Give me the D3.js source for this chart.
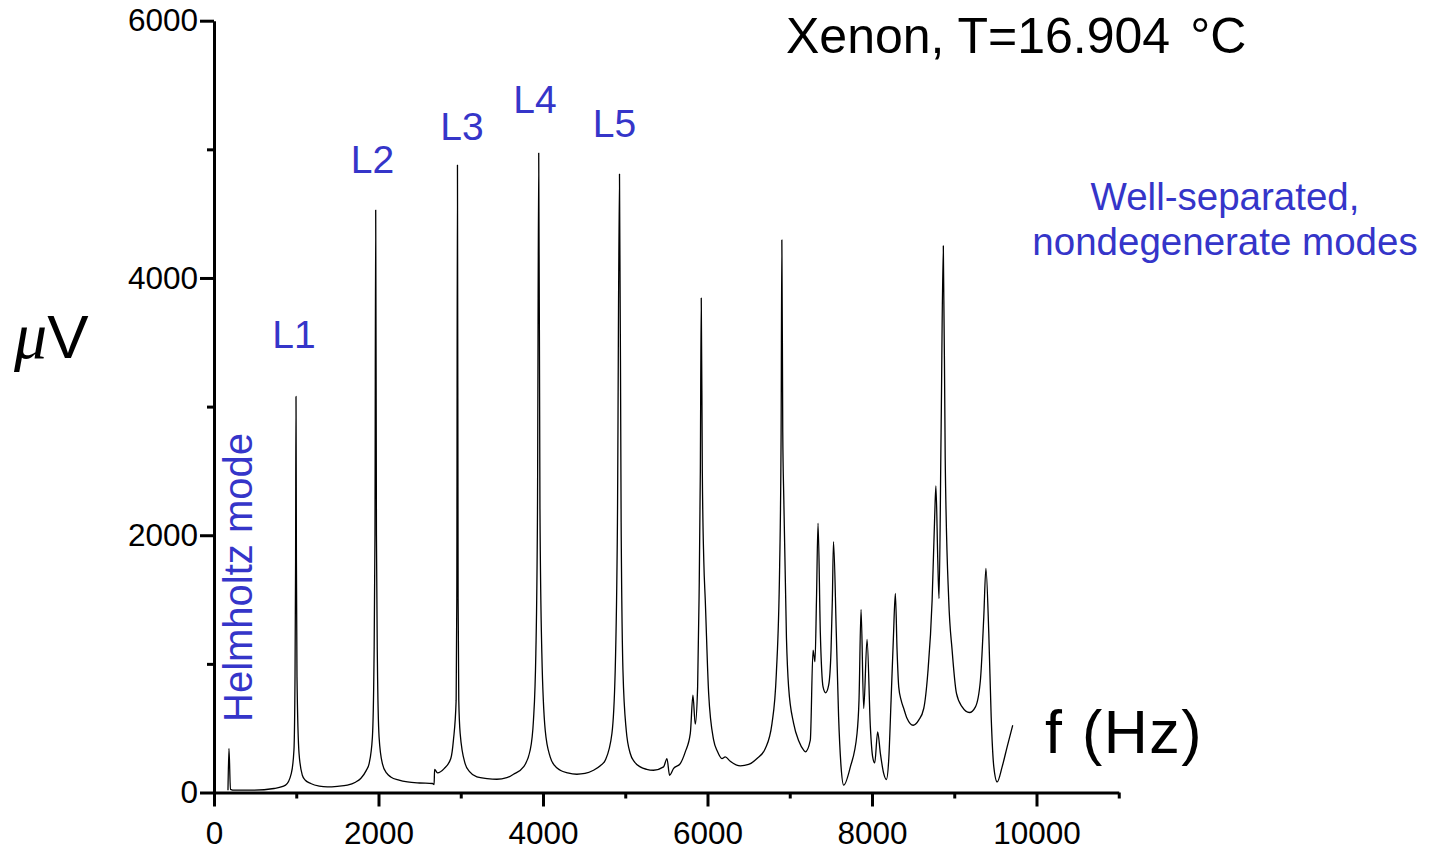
<!DOCTYPE html>
<html>
<head>
<meta charset="utf-8">
<script src="https://cdn.jsdelivr.net/npm/d3@7"></script>
<style>
  body { margin: 0; background: #fff; }
  svg { display: block; font-family: "Liberation Sans", Arial, sans-serif; }
</style>
</head>
<body>
<div id="container"></div>
<script>
/* DATA */
const freqHz = [
  170, 182, 200, 250, 490, 730, 870, 940, 972, 985, 992, 997, 1002, 1009, 1034, 1074, 1110, 1176, 1280, 1378,
  1500, 1622, 1720, 1784, 1850, 1886, 1926, 1945, 1957, 1966, 1975, 1987, 2007, 2047, 2100, 2149, 2250, 2352, 2500, 2656,
  2676, 2682, 2717, 2798, 2879, 2911, 2944, 2952, 2960, 2968, 2976, 2993, 3053, 3110, 3196, 3320, 3439, 3560, 3641, 3763,
  3844, 3884, 3913, 3933, 3948, 3963, 3986, 4027, 4087, 4140, 4209, 4300, 4412, 4510, 4614, 4700, 4757, 4838, 4878, 4905,
  4930, 4950, 4972, 5012, 5061, 5110, 5182, 5260, 5344, 5466, 5507, 5539, 5588, 5669, 5730, 5791, 5823, 5851, 5880, 5897,
  5913, 5924, 5937, 5955, 5973, 6014, 6075, 6120, 6176, 6216, 6277, 6399, 6500, 6602, 6703, 6784, 6837, 6877, 6895, 6904,
  6915, 6928, 6960, 6986, 7047, 7110, 7169, 7190, 7250, 7283, 7307, 7325, 7344, 7372, 7405, 7437, 7473, 7502, 7518, 7532,
  7566, 7594, 7624, 7656, 7737, 7818, 7842, 7867, 7899, 7940, 7980, 8008, 8033, 8069, 8102, 8142, 8175, 8203, 8232, 8260,
  8284, 8305, 8325, 8354, 8386, 8427, 8500, 8568, 8629, 8678, 8731, 8762, 8777, 8800, 8815, 8840, 8867, 8890, 8933, 8974,
  9027, 9096, 9185, 9258, 9318, 9359, 9385, 9420, 9449, 9481, 9522, 9582, 9643, 9711
];
const signal = [
  18, 342, 25, 18, 18, 31, 57, 148, 330, 900, 1800, 3079, 1800, 900, 303, 134, 95, 70, 50, 44,
  48, 57, 80, 109, 170, 225, 432, 1000, 2000, 4528, 2000, 1000, 432, 225, 150, 121, 96, 82, 74, 70,
  62, 180, 153, 186, 264, 407, 718, 1500, 4878, 1500, 718, 459, 225, 160, 121, 108, 103, 115, 142, 199,
  329, 562, 1081, 2200, 4971, 2200, 1081, 484, 277, 210, 173, 152, 142, 148, 173, 210, 251, 459, 951, 2100,
  4808, 2100, 951, 484, 303, 240, 199, 180, 173, 199, 264, 134, 187, 225, 316, 459, 757, 531, 821, 1495,
  2500, 3844, 2500, 1800, 1495, 770, 407, 320, 264, 277, 243, 207, 218, 264, 342, 536, 925, 1754, 2800, 4295,
  2800, 2273, 1200, 821, 537, 400, 329, 316, 407, 1107, 1016, 1500, 2093, 1236, 821, 775, 834, 1107, 1500, 1950,
  1239, 588, 199, 57, 199, 459, 718, 1423, 653, 1190, 510, 277, 230, 471, 303, 148, 101, 251, 718, 1200,
  1547, 1100, 821, 718, 653, 575, 523, 562, 653, 925, 1495, 2143, 2383, 1800, 1508, 2800, 4250, 2600, 1495, 1107,
  770, 666, 622, 666, 873, 1365, 1743, 1236, 588, 199, 82, 199, 355, 523
];
const xMajorTicks = [0, 2000, 4000, 6000, 8000, 10000];
const xMinorTicks = [1000, 3000, 5000, 7000, 9000, 11000];
const yMajorTicks = [0, 2000, 4000, 6000];
const yMinorTicks = [1000, 3000, 5000];
const modeNames = ["L1", "L2", "L3", "L4", "L5"];
const modeLabelFreq = [973, 1927, 3015, 3903, 4869];
const modeLabelValue = [3456, 4816, 5073, 5283, 5096];

/* CONSTANTS */
const width = 1429, height = 853;
const blue = "#3535c9";

const data = freqHz.map((f, i) => ({ f: f, v: signal[i] }));

// SCALES
const xScale = d3.scaleLinear().domain([0, 11000]).range([214, 1118.75]);
const yScale = d3.scaleLinear().domain([0, 6000]).range([792.5, 20.7]);

// SVG
const svg = d3.select("#container")
  .append("svg")
  .attr("width", width)
  .attr("height", height);

// AXES
function styleAxis(g) {
  g.selectAll("path, line").attr("stroke", "#000").attr("stroke-width", 3);
  g.selectAll("text").attr("fill", "#000").attr("font-size", 31.5)
    .attr("font-family", "Liberation Sans, Arial, sans-serif");
}

svg.append("g")
  .attr("transform", `translate(0,${yScale(0)})`)
  .call(d3.axisBottom(xScale).tickValues(xMinorTicks).tickSize(6).tickSizeOuter(0).tickFormat(""))
  .call(g => g.select(".domain").remove())
  .call(styleAxis);

svg.append("g")
  .attr("transform", `translate(${xScale(0)},0)`)
  .call(d3.axisLeft(yScale).tickValues(yMinorTicks).tickSize(7).tickSizeOuter(0).tickFormat(""))
  .call(g => g.select(".domain").remove())
  .call(styleAxis);

svg.append("g")
  .attr("transform", `translate(0,${yScale(0)})`)
  .call(d3.axisBottom(xScale).tickValues(xMajorTicks).tickSize(14).tickSizeOuter(0)
    .tickPadding(15.5).tickFormat(d3.format("d")))
  .call(styleAxis);

svg.append("g")
  .attr("transform", `translate(${xScale(0)},0)`)
  .call(d3.axisLeft(yScale).tickValues(yMajorTicks).tickSize(14).tickSizeOuter(0)
    .tickPadding(2).tickFormat(d3.format("d")))
  .call(styleAxis);

// LINE
const lineGen = d3.line()
  .curve(d3.curveMonotoneX)
  .x(d => xScale(d.f))
  .y(d => yScale(d.v));

svg.append("path")
  .datum(data)
  .attr("fill", "none")
  .attr("stroke", "#000")
  .attr("stroke-width", 1.3)
  .attr("stroke-linejoin", "round")
  .attr("d", lineGen);

// MODE LABELS
svg.selectAll("text.mode")
  .data(modeNames)
  .join("text")
  .attr("class", "mode")
  .attr("x", (d, i) => xScale(modeLabelFreq[i]))
  .attr("y", (d, i) => yScale(modeLabelValue[i]))
  .attr("text-anchor", "middle")
  .attr("font-size", 39)
  .attr("fill", blue)
  .text(d => d);

svg.append("text")
  .attr("transform", "translate(252,722) rotate(-90)")
  .attr("font-size", 40)
  .attr("fill", blue)
  .text("Helmholtz mode");

svg.append("text")
  .attr("x", 1225).attr("y", 210)
  .attr("text-anchor", "middle")
  .attr("font-size", 38.5)
  .attr("fill", blue)
  .text("Well-separated,");

svg.append("text")
  .attr("x", 1225).attr("y", 255)
  .attr("text-anchor", "middle")
  .attr("font-size", 38.5)
  .attr("fill", blue)
  .text("nondegenerate modes");

// TITLE
const title = svg.append("text")
  .attr("x", 786).attr("y", 53)
  .attr("font-size", 50)
  .attr("fill", "#000");
title.append("tspan").text("Xenon, T=16.904");
title.append("tspan").attr("dx", 20).text("°C");

// AXIS TITLES
svg.append("text")
  .attr("x", 1045).attr("y", 753)
  .attr("font-size", 61)
  .attr("letter-spacing", 1.5)
  .attr("fill", "#000")
  .text("f (Hz)");

svg.append("text")
  .attr("x", 14).attr("y", 358)
  .attr("font-size", 62)
  .attr("fill", "#000")
  .html('<tspan font-family="Liberation Serif, serif" font-style="italic" font-size="66">μ</tspan>V');
</script>
</body>
</html>
